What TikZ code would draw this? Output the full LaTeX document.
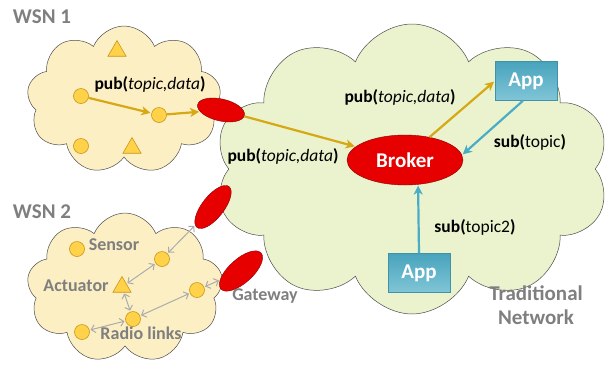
\documentclass[tikz,border=0pt]{standalone}
\usepackage{fontspec}
\setmainfont{Carlito}
\usetikzlibrary{shapes.symbols,shapes.geometric,arrows.meta}
\definecolor{beige}{HTML}{FDEFC4}
\definecolor{lgreen}{HTML}{EAF3CE}
\definecolor{goldc}{HTML}{D6A814}
\definecolor{tealc}{HTML}{4BACC6}
\definecolor{redc}{HTML}{E60000}
\definecolor{grayt}{HTML}{7F7F7F}
\definecolor{linkg}{HTML}{ABABAB}
\definecolor{ylw}{HTML}{FFD24A}
\definecolor{ylwd}{HTML}{C8971A}
\tikzset{
  cloudbox/.style={cloud, cloud ignores aspect, draw=black!70, line width=0.5pt, inner sep=0pt},
  sensornode/.style={circle, fill=ylw, draw=ylwd, line width=0.6pt, minimum size=15pt, inner sep=0pt},
  actnode/.style={regular polygon, regular polygon sides=3, fill=ylw, draw=ylwd, line width=0.6pt, minimum size=21pt, inner sep=0pt},
  gwnode/.style={ellipse, fill=redc, draw=red!55!black, line width=0.4pt, inner sep=0pt},
  brokernode/.style={ellipse, fill=redc, draw=red!55!black, line width=0.4pt, minimum width=116pt, minimum height=50pt, text=white, font=\bfseries\fontsize{21}{21}\selectfont},
  appnode/.style={rectangle, top color=tealc!95!black, bottom color=tealc!70!white, draw=tealc!85!black, line width=0.4pt, minimum width=62pt, minimum height=39pt, text=white, font=\bfseries\fontsize{21}{21}\selectfont},
  goldarrow/.style={draw=goldc, line width=2.2pt, -{Stealth[length=9pt,width=9pt,inset=2.5pt]}, shorten >=1pt},
  tealarrow/.style={draw=tealc, line width=2.2pt, -{Stealth[length=9pt,width=9pt,inset=2.5pt]}, shorten >=1pt},
  radiolink/.style={draw=linkg, line width=1pt, {Straight Barb[length=4pt,width=8pt]}-{Straight Barb[length=4pt,width=8pt]}, shorten >=1pt, shorten <=1pt},
  msg/.style={font=\fontsize{17.5}{18}\selectfont, inner sep=0pt},
  graylabel/.style={text=grayt, font=\bfseries\fontsize{18}{18}\selectfont, inner sep=0pt},
  titlelabel/.style={text=grayt, font=\bfseries\fontsize{21}{24}\selectfont, inner sep=0pt, align=center}
}
\begin{document}
\begin{tikzpicture}[x=1pt,y=-1pt]
\useasboundingbox (0,0) rectangle (612,365);
% clouds
\node[cloudbox, fill=lgreen, cloud puffs=10, cloud puff arc=135, minimum width=395pt, minimum height=290pt] (net) at (412,169) {};
\node[cloudbox, fill=beige, cloud puffs=9, cloud puff arc=135, minimum width=194pt, minimum height=148pt] (wsn1) at (124,100) {};
\node[cloudbox, fill=beige, cloud puffs=9, cloud puff arc=135, minimum width=196pt, minimum height=150pt] (wsn2) at (125,288) {};
% gateways
\node[gwnode, minimum width=48pt, minimum height=22pt, rotate=-13] (gw1) at (221,110) {};
\node[gwnode, minimum width=52pt, minimum height=22pt, rotate=52] (gw2) at (213,207) {};
\node[gwnode, minimum width=54pt, minimum height=24pt, rotate=42] (gw3) at (241,271) {};
% broker and apps
\node[brokernode] (broker) at (405,160) {Broker};
\node[appnode] (app1) at (526,81) {App};
\node[appnode] (app2) at (419,273) {App};
% WSN1 nodes
\node[sensornode] (wa) at (81,96) {};
\node[sensornode] (wb) at (159,115) {};
\node[sensornode] (wc) at (81,146) {};
\node[actnode] (wt1) at (117,51) {};
\node[actnode] (wt2) at (132,148) {};
% WSN2 nodes
\node[sensornode] (s1) at (77,249) {};
\node[sensornode] (s2) at (162,259) {};
\node[actnode] (act) at (122,287) {};
\node[sensornode] (s3) at (133,319) {};
\node[sensornode] (s4) at (82,332) {};
\node[sensornode] (s5) at (197,290) {};
% gold arrows
\draw[goldarrow] (wa) -- (wb);
\draw[goldarrow] (wb) -- (gw1);
\draw[goldarrow] (gw1) -- (broker);
\draw[goldarrow] (broker.43) -- (app1.west);
% teal arrows
\draw[tealarrow] ([xshift=-3pt]app1.south) -- (broker.5);
\draw[tealarrow] (app2.north) -- (broker.-62);
% radio links
\draw[radiolink] (s2) -- (gw2);
\draw[radiolink] (act) -- (s2);
\draw[radiolink] (act) -- (s3);
\draw[radiolink] (s3) -- (s5);
\draw[radiolink] (s4) -- (s3);
\draw[radiolink] (s5) -- (gw3);
% labels
\node[titlelabel] (t1) at (42,17) {WSN 1};
\node[titlelabel] (t2) at (42,212) {WSN 2};
\node[msg] (m1) at (150,84) {\textbf{pub(}\textit{topic,data}\textbf{)}};
\node[msg] (m2) at (400,97) {\textbf{pub(}\textit{topic,data}\textbf{)}};
\node[msg] (m3) at (283,156) {\textbf{pub(}\textit{topic,data}\textbf{)}};
\node[msg] (m4) at (530,142) {\textbf{sub(}topic\textbf{)}};
\node[msg] (m5) at (475,227) {\textbf{sub(}topic2\textbf{)}};
\node[graylabel] (l1) at (114,245) {Sensor};
\node[graylabel] (l2) at (76,286) {Actuator};
\node[graylabel] (l3) at (141,333) {Radio links};
\node[graylabel] (l4) at (265,296) {Gateway};
\node[titlelabel] (t3) at (536,305) {Traditional\\Network};
\end{tikzpicture}
\end{document}
